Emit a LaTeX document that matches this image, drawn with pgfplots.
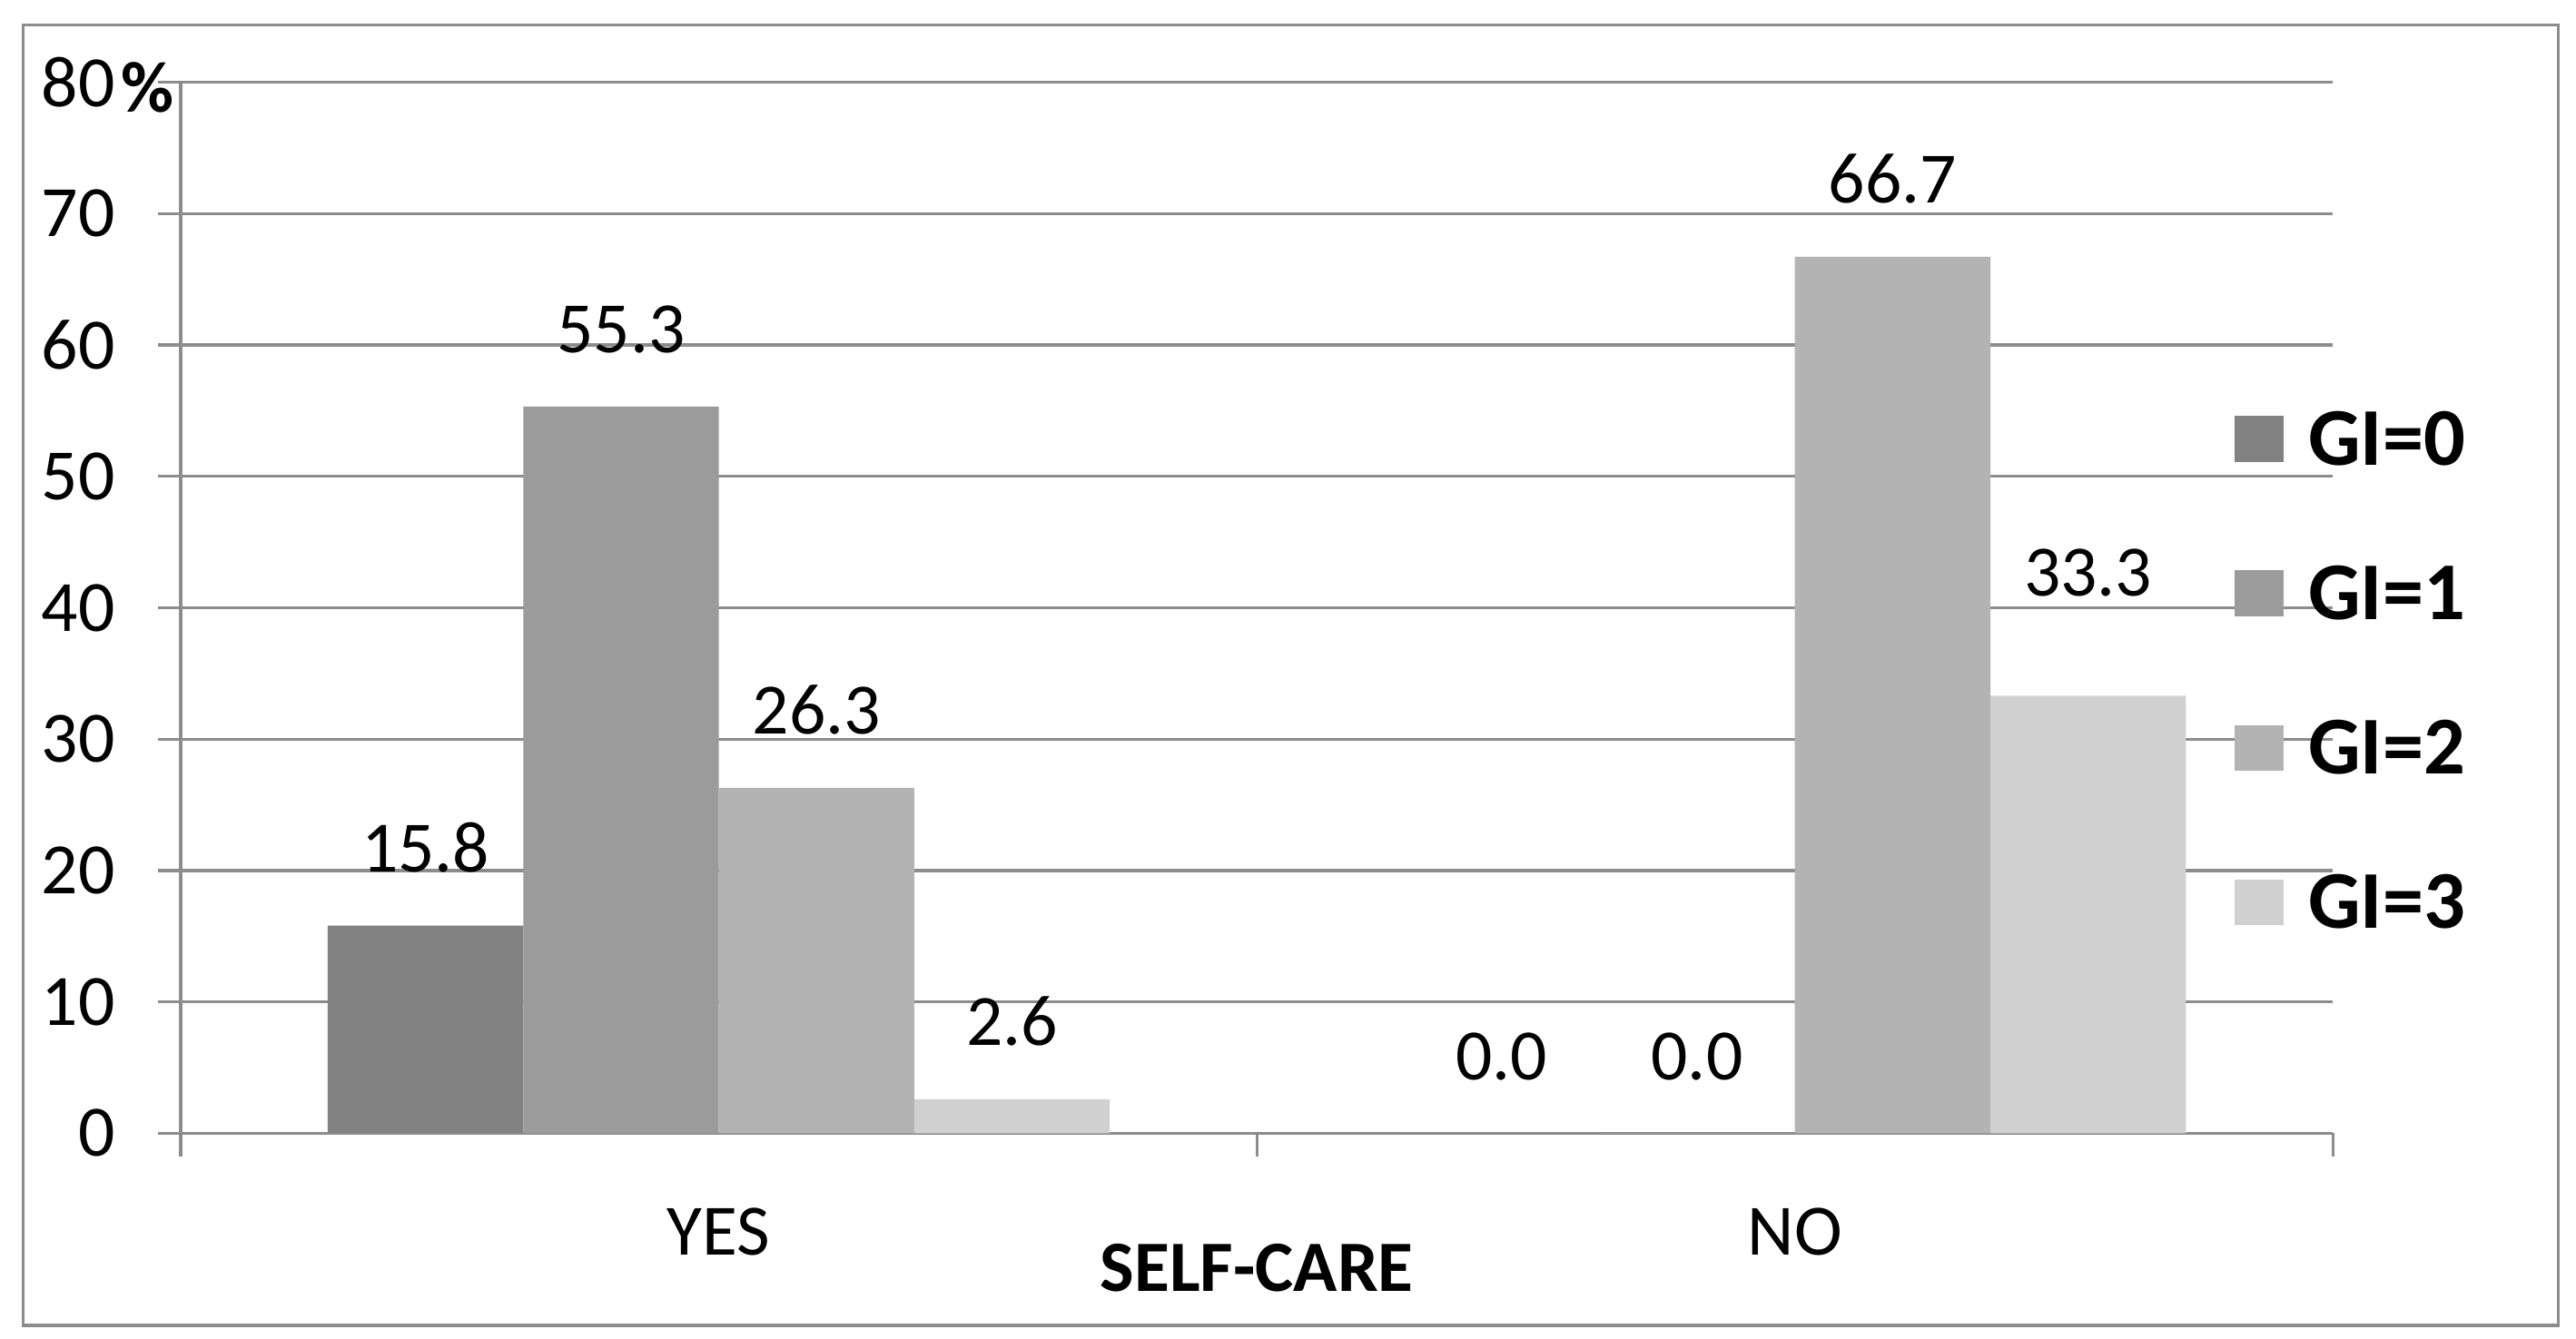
\documentclass[border=0pt]{standalone}
\usepackage{pgfplots}
\pgfplotsset{compat=1.18}
\usepackage{pgfplotstable}
\usepackage{fontspec}
\setmainfont{Carlito}
\pgfkeys{/pgf/number format/assume math mode=true}
\definecolor{gizero}{HTML}{828282}
\definecolor{gione}{HTML}{9B9B9B}
\definecolor{gitwo}{HTML}{B3B3B3}
\definecolor{githree}{HTML}{D0D0D0}
\definecolor{gridgray}{HTML}{8C8C8C}

\pgfplotstableread{
x y s
0 15.8 0
1 0.0 0
}\tgizero
\pgfplotstableread{
x y s
0 55.3 0
1 0.0 0
}\tgione
\pgfplotstableread{
x y s
0 26.3 0
1 66.7 0
}\tgitwo
\pgfplotstableread{
x y s
0 2.6 0
1 33.3 14
}\tgithree

\begin{document}
\begin{tikzpicture}[font=\fontsize{22}{26}\selectfont]
\path[use as bounding box, fill=white] (-55pt,-62.5pt) rectangle (729pt,345pt);
\draw[gridgray, line width=0.9pt] (-48pt,-58.5pt) rectangle (723.5pt,337.5pt);
\begin{axis}[
  at={(0pt,0pt)}, anchor=south west,
  scale only axis, width=655pt, height=320pt,
  clip=false,
  xmin=-0.5, xmax=1.5, ymin=0, ymax=80,
  ybar=0pt, bar width=59.5pt,
  axis x line*=bottom, axis y line*=left,
  axis line style={gridgray, line width=0.9pt, -},
  ytick={0,10,...,80},
  ymajorgrids, grid style={gridgray, line width=0.9pt},
  tick style={gridgray, line width=0.9pt},
  tick align=outside,
  major tick length=7pt,
  xtick={-0.5,0.5,1.5}, xticklabels={},
  extra x ticks={0,1}, extra x tick labels={YES,NO},
  extra x tick style={major tick length=0pt, grid=none,
     xticklabel style={anchor=base, yshift=-37pt}},
  yticklabel style={xshift=-9.5pt},
  xlabel={\bfseries SELF-CARE},
  xlabel style={at={(axis description cs:0.5,0)}, anchor=base, yshift=-48pt},
  nodes near coords={\pgfmathprintnumber[fixed,fixed zerofill,precision=1]{\pgfplotspointmeta}},
  visualization depends on={\thisrow{s}\as\lblshift},
  every node near coord/.append style={text=black, inner sep=0pt, anchor=south, yshift=16pt+\lblshift pt},
  legend style={at={(0.954,0.686)}, anchor=north west, draw=none, fill=none,
     inner sep=0pt, font=\bfseries\fontsize{25}{30}\selectfont,
     nodes={inner sep=0pt, text height=16pt, text depth=0pt},
     row sep=31pt,
     /tikz/every odd column/.append style={column sep=7.5pt}},
  legend cell align=left,
  legend image code/.code={\fill[#1] (0pt,-7pt) rectangle (15pt,7pt);},
]
\addplot[fill=gizero, draw=none] table[x=x,y=y] {\tgizero};
\addplot[fill=gione, draw=none] table[x=x,y=y] {\tgione};
\addplot[fill=gitwo, draw=none] table[x=x,y=y] {\tgitwo};
\addplot[fill=githree, draw=none] table[x=x,y=y] {\tgithree};
\legend{GI=0,GI=1,GI=2,GI=3}
\node[font=\bfseries\fontsize{22}{26}\selectfont, inner sep=0pt] at ([xshift=-10pt,yshift=-1.5pt]rel axis cs:0,1) {\%};
\end{axis}
\end{tikzpicture}
\end{document}
